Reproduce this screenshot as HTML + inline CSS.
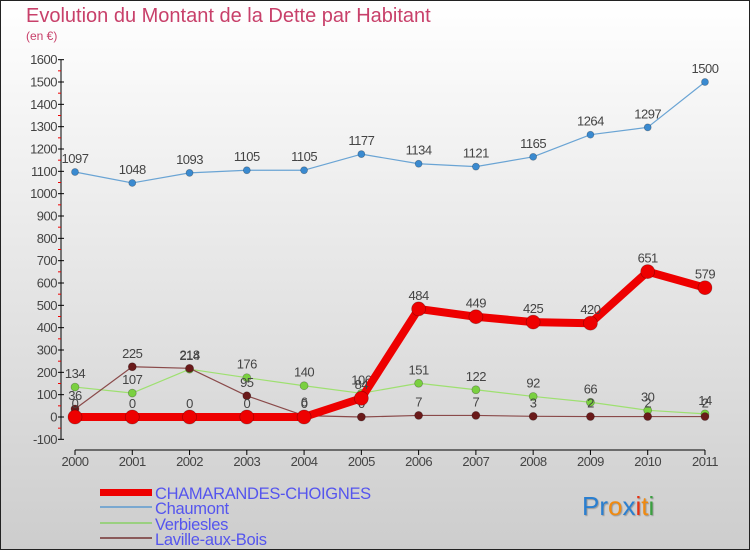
<!DOCTYPE html>
<html><head><meta charset="utf-8"><style>
html,body{margin:0;padding:0}
body{width:750px;height:550px;overflow:hidden}
svg{display:block;font-family:"Liberation Sans",sans-serif}
</style></head><body>
<svg id="c" width="750" height="550" viewBox="0 0 750 550">
<defs><linearGradient id="bg" x1="0" y1="0" x2="0" y2="1"><stop offset="0" stop-color="#ffffff"/><stop offset="1" stop-color="#cdcdcd"/></linearGradient></defs>
<rect x="0.5" y="0.5" width="749" height="549" fill="url(#bg)" stroke="#222"/>
<text x="26" y="22" font-size="20" fill="#c8406a">Evolution du Montant de la Dette par Habitant</text>
<text x="26" y="40" font-size="12" fill="#c8406a">(en €)</text>
<g id="axes"></g><g id="series"></g>
<g>
<rect x="100" y="489" width="52" height="7" fill="#ee0000"/>
<text x="155" y="499" font-size="16.5" fill="#5555ee" letter-spacing="-0.3">CHAMARANDES-CHOIGNES</text>
<rect x="100" y="506" width="52" height="2" fill="#7aa8d0"/>
<text x="155" y="514" font-size="16.5" fill="#5555ee" letter-spacing="-0.3">Chaumont</text>
<rect x="100" y="522" width="52" height="2" fill="#9ad080"/>
<text x="155" y="530" font-size="16.5" fill="#5555ee" letter-spacing="-0.3">Verbiesles</text>
<rect x="100" y="537" width="52" height="2" fill="#8a5a5a"/>
<text x="155" y="545" font-size="16.5" fill="#5555ee" letter-spacing="-0.3">Laville-aux-Bois</text>
</g>
<text x="582" y="515" font-size="26" style="text-shadow:1px 1px 1px #999"><tspan fill="#2a7fd0">Pr</tspan><tspan fill="#f08a10">o</tspan><tspan fill="#2a7fd0">x</tspan><tspan fill="#e83010">i</tspan><tspan fill="#f08a10">t</tspan><tspan fill="#3aa040">i</tspan></text>
</svg>
<script>
const years=["2000","2001","2002","2003","2004","2005","2006","2007","2008","2009","2010","2011"];
const chamarandes=[0,0,0,0,0,84,484,449,425,420,651,579];
const chaumont=[1097,1048,1093,1105,1105,1177,1134,1121,1165,1264,1297,1500];
const verbiesles=[134,107,214,176,140,106,151,122,92,66,30,14];
const laville=[36,225,218,95,6,0,7,7,3,2,2,2];
const yTicks=[-100,0,100,200,300,400,500,600,700,800,900,1000,1100,1200,1300,1400,1500,1600];
const NS="http://www.w3.org/2000/svg";
const X=i=>75+i*57.27;
const Y=v=>417-v*0.22333;
function mk(t,a,p){const e=document.createElementNS(NS,t);for(const k in a)e.setAttribute(k,a[k]);p.appendChild(e);return e;}
const ax=document.getElementById('axes');
let l=mk('line',{x1:61,y1:60,x2:61,y2:439,stroke:'#000'},ax);


yTicks.forEach(v=>{
 mk('line',{x1:58,y1:Y(v),x2:64,y2:Y(v),stroke:'#000'},ax);
 if(v<1600) mk('line',{x1:58,y1:Y(v+50),x2:61,y2:Y(v+50),stroke:'#e00'},ax);
 const t=mk('text',{x:57,y:Y(v)+4.5,'font-size':13,'text-anchor':'end',fill:'#444','letter-spacing':'-0.5'},ax);
 t.textContent=v;
 
 
});
l=mk('line',{x1:75,y1:450,x2:705,y2:450,stroke:'#000'},ax);


years.forEach((y,i)=>{
 mk('line',{x1:X(i),y1:450,x2:X(i),y2:455,stroke:'#000'},ax);
 const t=mk('text',{x:X(i),y:466,'font-size':13,'text-anchor':'middle',fill:'#444','letter-spacing':'-0.5'},ax);
 t.textContent=y;
 
 
});
const sg=document.getElementById('series');
function series(vals,name,col,dot,w,r){
 const g=mk('g',{},sg);
 
 
 const ln=mk('polyline',{points:vals.map((v,i)=>X(i)+','+Y(v)).join(' '),fill:'none',stroke:col,'stroke-width':w,'stroke-linejoin':'round'},g);
 
 
 vals.forEach((v,i)=>{
  const c=mk('circle',{cx:X(i),cy:Y(v),r:r,fill:dot,stroke:'rgba(0,0,0,0.3)','stroke-width':0.7},g);
  
  
  const t=mk('text',{x:X(i),y:Y(v)-9,'font-size':13,'text-anchor':'middle',fill:'#444','letter-spacing':'-0.5'},g);
  t.textContent=v;
  
  
 });
}
series(chaumont,'chaumont','#6aa4d4','#3a8ad0',1.2,3.5);
series(verbiesles,'verbiesles','#9ee070','#7ad040',1.2,4);
series(laville,'laville','#8a4a4a','#6a1a1a',1.2,4);
series(chamarandes,'chamarandes','#ee0000','#ee0000',8,7);
</script>
</body></html>
